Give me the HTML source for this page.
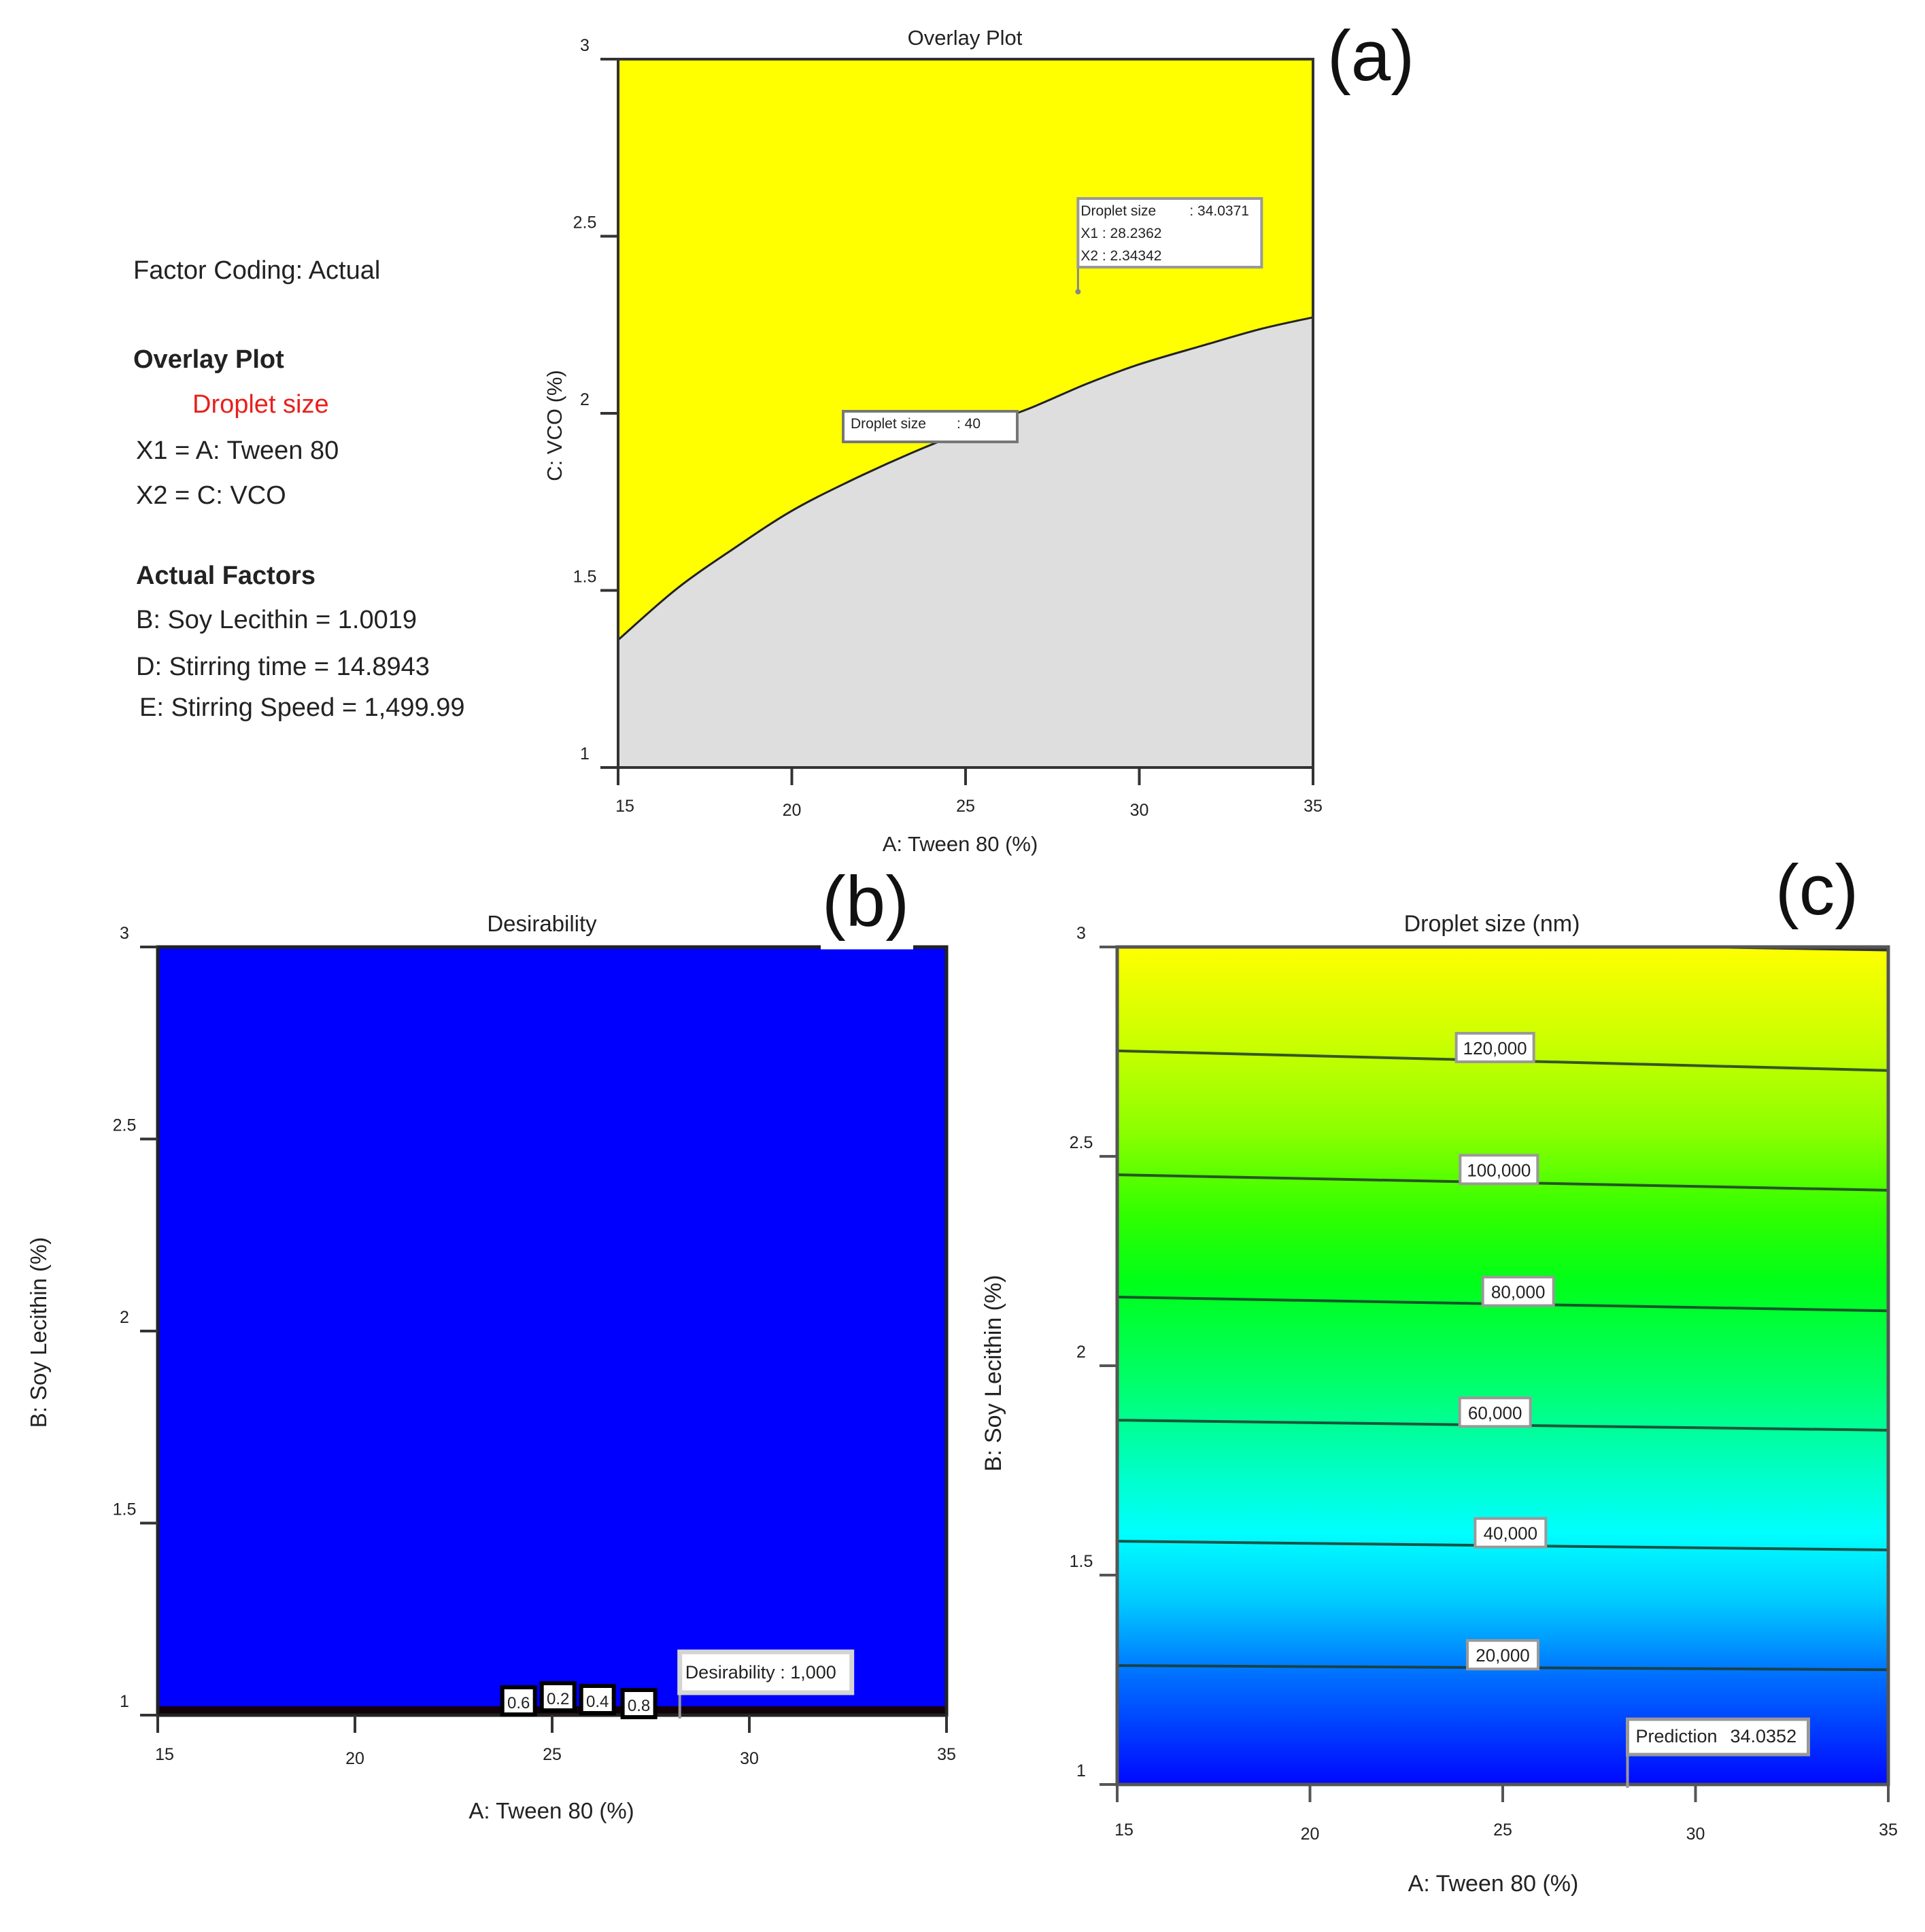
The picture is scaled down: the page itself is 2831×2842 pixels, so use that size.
<!DOCTYPE html>
<html>
<head>
<meta charset="utf-8">
<style>
html,body{margin:0;padding:0;background:#fff;}
svg{display:block;}
text{font-family:"Liberation Sans","DejaVu Sans",sans-serif;fill:#222;}
</style>
</head>
<body>
<svg id="fig" width="2831" height="2842" viewBox="0 0 2831 2842" xmlns="http://www.w3.org/2000/svg">
<defs>
<linearGradient id="cgrad" x1="0" y1="0" x2="0" y2="1">
<stop offset="0" stop-color="#ffff00"/>
<stop offset="0.12" stop-color="#c8ff00"/>
<stop offset="0.22" stop-color="#8cff00"/>
<stop offset="0.32" stop-color="#30ff00"/>
<stop offset="0.40" stop-color="#00ff18"/>
<stop offset="0.52" stop-color="#00ff6a"/>
<stop offset="0.63" stop-color="#00ffc8"/>
<stop offset="0.70" stop-color="#00ffff"/>
<stop offset="0.78" stop-color="#00ccff"/>
<stop offset="0.87" stop-color="#0070ff"/>
<stop offset="1" stop-color="#0008ff"/>
</linearGradient>
</defs>

<g font-size="38">
<text x="196" y="410">Factor Coding: Actual</text>
<text x="196" y="541" font-weight="bold">Overlay Plot</text>
<text x="283" y="607" style="fill:#e8201c">Droplet size</text>
<text x="200" y="675">X1 = A: Tween 80</text>
<text x="200" y="741">X2 = C: VCO</text>
<text x="200" y="859" font-weight="bold">Actual Factors</text>
<text x="200" y="924">B: Soy Lecithin = 1.0019</text>
<text x="200" y="993">D: Stirring time = 14.8943</text>
<text x="205" y="1053">E: Stirring Speed = 1,499.99</text>
</g>

<g id="pa"></g>
<g id="pb"></g>
<g id="pc"></g>
</svg>

<script>
const curveA = [15, 16.68, 18.37, 19.97, 21.57, 23.42, 25.02, 26.79, 28.48, 29.99, 31.85, 33.53, 35];
const curveC = [1.36, 1.504, 1.621, 1.723, 1.804, 1.887, 1.950, 2.012, 2.083, 2.138, 2.192, 2.239, 2.271];
const xTicks = [15, 20, 25, 30, 35];
const xTickLabels = ["15", "20", "25", "30", "35"];
const yTicks = [1, 1.5, 2, 2.5, 3];
const yTickLabels = ["1", "1.5", "2", "2.5", "3"];
const flagA = [28.2362];
const flagC = [2.34342];
const desLabels = ["0.6", "0.2", "0.4", "0.8"];
const desLabelA = [24.15, 25.15, 26.15, 27.2];
const contourLevels = ["120,000", "100,000", "80,000", "60,000", "40,000", "20,000"];
const contourB15 = [2.752, 2.456, 2.164, 1.870, 1.581, 1.284];
const contourB35 = [2.705, 2.419, 2.131, 1.846, 1.560, 1.274];
const contourLabelA = [24.8, 24.9, 25.4, 24.8, 25.2, 25.0];
const predictionA = [28.2362];

const NS = "http://www.w3.org/2000/svg";
function mk(parent, tag, attrs, txt) {
  const e = document.createElementNS(NS, tag);
  for (const k in attrs) e.setAttribute(k, attrs[k]);
  if (txt !== undefined) e.textContent = txt;
  parent.appendChild(e);
  return e;
}
function scale(d0, d1, r0, r1) { return v => r0 + (v - d0) / (d1 - d0) * (r1 - r0); }
function smoothPath(pts) {
  let d = "M" + pts[0][0] + "," + pts[0][1];
  for (let i = 0; i < pts.length - 1; i++) {
    const p0 = pts[Math.max(0, i - 1)], p1 = pts[i], p2 = pts[i + 1], p3 = pts[Math.min(pts.length - 1, i + 2)];
    const c1x = p1[0] + (p2[0] - p0[0]) / 6, c1y = p1[1] + (p2[1] - p0[1]) / 6;
    const c2x = p2[0] - (p3[0] - p1[0]) / 6, c2y = p2[1] - (p3[1] - p1[1]) / 6;
    d += " C" + c1x + "," + c1y + " " + c2x + "," + c2y + " " + p2[0] + "," + p2[1];
  }
  return d;
}

function axes(g, L, R, T, B, sx, sy, opt) {
  xTicks.forEach((v, i) => {
    const t = mk(g, "line", {x1: sx(v), x2: sx(v), y1: B, y2: B + opt.tickLen, stroke: opt.tickColor, "stroke-width": 4});
    
    
    const lb = mk(g, "text", {x: sx(v) + (i === 0 ? 10 : 0), y: opt.xLabelY + (i % 2 ? 6 : 0), "font-size": 25, "text-anchor": "middle"}, xTickLabels[i]);
    
    
  });
  yTicks.forEach((v, i) => {
    const t = mk(g, "line", {x1: L - opt.tickLen, x2: L, y1: sy(v), y2: sy(v), stroke: opt.tickColor, "stroke-width": 4});
    
    
    const lb = mk(g, "text", {x: opt.yLabelX, y: sy(v) - 12, "font-size": 25, "text-anchor": "middle"}, yTickLabels[i]);
    
    
  });
}

(function () {
  const g = document.getElementById("pa");
  const L = 909, R = 1931, T = 87, B = 1129;
  const sx = scale(15, 35, L, R), sy = scale(1, 3, B, T);
  const bg = mk(g, "rect", {x: L, y: T, width: R - L, height: B - T, fill: "#ffff00"});
  
  
  const pts = curveA.map((a, i) => [sx(a), sy(curveC[i])]);
  const d = smoothPath(pts);
  const grey = mk(g, "path", {d: d + " L" + R + "," + B + " L" + L + "," + B + " Z", fill: "#dedede"});
  
  
  const line = mk(g, "path", {d: d, fill: "none", stroke: "#222", "stroke-width": 3});
  
  
  const fr = mk(g, "rect", {x: L, y: T, width: R - L, height: B - T, fill: "none", stroke: "#333", "stroke-width": 4});
  
  
  axes(g, L, R, T, B, sx, sy, {tickLen: 26, tickColor: "#333", xLabelY: 1194, yLabelX: 860});
  mk(g, "text", {x: 1419, y: 66, "font-size": 31, "text-anchor": "middle",  }, "Overlay Plot");
  mk(g, "text", {x: 2016, y: 118, "font-size": 105, "text-anchor": "middle", style: "fill:#111",  }, "(a)");
  mk(g, "text", {x: 1412, y: 1252, "font-size": 31, "text-anchor": "middle",  }, "A: Tween 80 (%)");
  mk(g, "text", {x: 0, y: 0, "font-size": 31, "text-anchor": "middle", transform: "translate(826,626) rotate(-90)",  }, "C: VCO (%)");
  const fx = sx(flagA[0]), fy = sy(flagC[0]);
  mk(g, "line", {x1: fx, x2: fx, y1: 393, y2: fy, stroke: "#888", "stroke-width": 3,  });
  mk(g, "circle", {cx: fx, cy: fy, r: 4, fill: "#888",  });
  mk(g, "rect", {x: fx, y: 292, width: 270, height: 101, fill: "#fff", stroke: "#999", "stroke-width": 4,  });
  mk(g, "text", {x: fx + 4, y: 317, "font-size": 21,  }, "Droplet size");
  mk(g, "text", {x: fx + 164, y: 317, "font-size": 21,  }, ": 34.0371");
  mk(g, "text", {x: fx + 4, y: 350, "font-size": 21,  }, "X1 : 28.2362");
  mk(g, "text", {x: fx + 4, y: 383, "font-size": 21,  }, "X2 : 2.34342");
  mk(g, "rect", {x: 1240, y: 605, width: 256, height: 45, fill: "#fff", stroke: "#777", "stroke-width": 4,  });
  mk(g, "text", {x: 1251, y: 630, "font-size": 21,  }, "Droplet size");
  mk(g, "text", {x: 1407, y: 630, "font-size": 21,  }, ": 40");
})();

(function () {
  const g = document.getElementById("pb");
  const L = 232, R = 1392, T = 1393, B = 2523;
  const sx = scale(15, 35, L, R), sy = scale(1, 3, B, T);
  const bg = mk(g, "rect", {x: L, y: T, width: R - L, height: B - T, fill: "#0000fe"});
  
  
  mk(g, "rect", {x: L, y: B - 13, width: R - L, height: 13, fill: "#140008",  });
  mk(g, "rect", {x: L, y: T, width: R - L, height: B - T, fill: "none", stroke: "#222", "stroke-width": 5,  });
  mk(g, "line", {x1: 1207, x2: 1343, y1: T, y2: T, stroke: "#fff", "stroke-width": 7,  });
  axes(g, L, R, T, B, sx, sy, {tickLen: 26, tickColor: "#333", xLabelY: 2589, yLabelX: 183});
  mk(g, "text", {x: 797, y: 1370, "font-size": 33, "text-anchor": "middle",  }, "Desirability");
  mk(g, "text", {x: 1273, y: 1362, "font-size": 105, "text-anchor": "middle", style: "fill:#111",  }, "(b)");
  mk(g, "text", {x: 811, y: 2675, "font-size": 33, "text-anchor": "middle",  }, "A: Tween 80 (%)");
  mk(g, "text", {x: 0, y: 0, "font-size": 33, "text-anchor": "middle", transform: "translate(68,1960) rotate(-90)",  }, "B: Soy Lecithin (%)");
  desLabels.forEach((s, i) => {
    const cx = sx(desLabelA[i]);
    const yy = [2482, 2476, 2480, 2486][i];
    const r = mk(g, "rect", {x: cx - 24, y: yy, width: 48, height: 40, fill: "#fff", stroke: "#000", "stroke-width": 6});
    
    
    const t = mk(g, "text", {x: cx, y: yy + 31, "font-size": 24, "text-anchor": "middle"}, s);
    
    
  });
  const px = sx(flagA[0]);
  mk(g, "line", {x1: px, x2: px, y1: 2490, y2: 2528, stroke: "#999", "stroke-width": 4,  });
  mk(g, "rect", {x: px, y: 2430, width: 253, height: 60, fill: "#fff", stroke: "#d4d4d4", "stroke-width": 7,  });
  mk(g, "text", {x: px + 8, y: 2469, "font-size": 27,  }, "Desirability : 1,000");
})();

(function () {
  const g = document.getElementById("pc");
  const L = 1643, R = 2777, T = 1393, B = 2625;
  const sx = scale(15, 35, L, R), sy = scale(1, 3, B, T);
  const bg = mk(g, "rect", {x: L, y: T, width: R - L, height: B - T, fill: "url(#cgrad)"});
  
  
  contourLevels.forEach((lv, i) => {
    const ln = mk(g, "line", {x1: L, x2: R, y1: sy(contourB15[i]), y2: sy(contourB35[i]), stroke: "#1c3a2a", "stroke-width": 4, opacity: 0.85});
    
    
    const a = contourLabelA[i];
    const frac = (a - 15) / 20;
    const cy = sy(contourB15[i] + (contourB35[i] - contourB15[i]) * frac) - 18;
    const w = lv.length > 6 ? 114 : 104;
    const r = mk(g, "rect", {x: sx(a) - w / 2, y: cy - 22, width: w, height: 42, fill: "#fff", stroke: "#999", "stroke-width": 4});
    
    
    const t = mk(g, "text", {x: sx(a), y: cy + 9, "font-size": 26, "text-anchor": "middle"}, lv);
    
    
  });
  mk(g, "line", {x1: 2540, x2: R, y1: T, y2: T + 4, stroke: "#333", "stroke-width": 5,  });
  mk(g, "rect", {x: L, y: T, width: R - L, height: B - T, fill: "none", stroke: "#555", "stroke-width": 5,  });
  axes(g, L, R, T, B, sx, sy, {tickLen: 26, tickColor: "#555", xLabelY: 2700, yLabelX: 1590});
  mk(g, "text", {x: 2194, y: 1370, "font-size": 34, "text-anchor": "middle",  }, "Droplet size (nm)");
  mk(g, "text", {x: 2672, y: 1345, "font-size": 105, "text-anchor": "middle", style: "fill:#111",  }, "(c)");
  mk(g, "text", {x: 2196, y: 2782, "font-size": 34, "text-anchor": "middle",  }, "A: Tween 80 (%)");
  mk(g, "text", {x: 0, y: 0, "font-size": 34, "text-anchor": "middle", transform: "translate(1472,2020) rotate(-90)",  }, "B: Soy Lecithin (%)");
  const px = sx(predictionA[0]);
  mk(g, "line", {x1: px, x2: px, y1: 2580, y2: 2630, stroke: "#999", "stroke-width": 4,  });
  mk(g, "rect", {x: px, y: 2529, width: 266, height: 52, fill: "#fff", stroke: "#999", "stroke-width": 5,  });
  mk(g, "text", {x: px + 12, y: 2563, "font-size": 27,  }, "Prediction");
  mk(g, "text", {x: px + 151, y: 2563, "font-size": 27,  }, "34.0352");
})();
</script>
</body>
</html>
